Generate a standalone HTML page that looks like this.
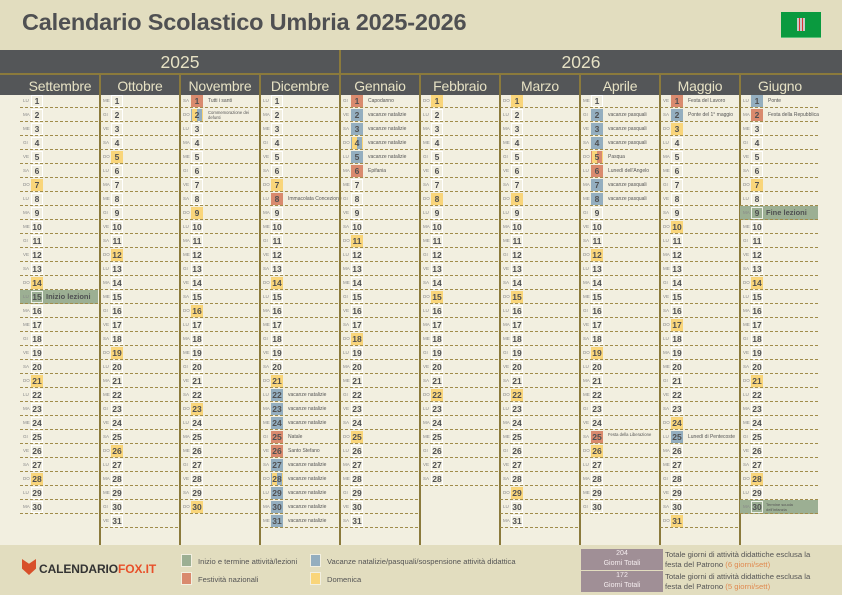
<!DOCTYPE html>
<html><head><meta charset="utf-8">
<style>
*{margin:0;padding:0;box-sizing:border-box}
body{width:842px;height:595px;overflow:hidden;background:#f2efe0;font-family:"Liberation Sans",sans-serif;position:relative}
.top{position:absolute;left:0;top:0;width:842px;height:50px;background:#e2ddbf}
.title{position:absolute;left:22px;top:9px;font-size:23.5px;font-weight:bold;color:#4f5052;letter-spacing:-0.2px}
.flag{position:absolute;left:781px;top:12px;width:40px;height:26px;background:#0a9a3f;border-bottom:1px solid #5cc07a}
.flag i{position:absolute;left:16px;top:6px;width:8px;height:13px;background:repeating-linear-gradient(90deg,#c9c9c9 0 2px,#d33 2px 3px,#c9c9c9 3px 5px,#d33 5px 6px,#c9c9c9 6px 8px)}
.band{position:absolute;left:0;top:50px;width:842px;height:45px;background:#545658}
.gl{position:absolute;left:0;top:73px;width:842px;height:2px;background:#8b7a3c}
.yr{position:absolute;top:52px;font-size:17.5px;color:#e6e1c4;text-align:center}
.mh{position:absolute;top:78px;width:80px;text-align:center;font-size:14px;color:#e6e1c4;letter-spacing:-0.2px}
.vl{position:absolute;width:1.5px;background:#8b7a3c}
.row{position:absolute;height:14px;border-bottom:1px dashed #a08c4a}
.wd{position:absolute;left:3px;top:4px;font-size:4.5px;color:#888}
.bx{position:absolute;left:11px;top:1px;width:12px;height:12px;border:1px solid #fff;font-size:8.5px;font-weight:bold;color:#4f5052;text-align:center;line-height:10px}
.ev{position:absolute;left:28px;top:4px;font-size:5px;color:#555;white-space:nowrap}
.foot{position:absolute;left:0;top:545px;width:842px;height:50px;background:#e2ddbf}
.lg{position:absolute;width:11px;height:13px;border:1px solid #f2efe0}
.lt{position:absolute;font-size:7.6px;color:#555}
.st{position:absolute;left:581px;width:82px;height:21px;background:#a08f96;color:#f4ecee;font-size:7px;text-align:center;line-height:9.5px;padding-top:0}
.stt{position:absolute;left:665px;font-size:7.7px;color:#555;line-height:10px}
.stt span{color:#e08a50}
</style></head><body>
<div class="top"></div>
<div class="title">Calendario Scolastico Umbria 2025-2026</div>
<div class="flag"><i></i></div>
<div class="band"></div>
<div class="gl"></div>
<div class="yr" style="left:20px;width:320px">2025</div>
<div class="yr" style="left:341px;width:480px">2026</div>
<div id="cal"></div>
<div class="foot">
<div style="position:absolute;left:22px;top:14px;width:14px;height:16px;background:#d8502a;clip-path:polygon(0 0,50% 30%,100% 0,100% 60%,50% 100%,0 60%)"></div>
<div style="position:absolute;left:39px;top:17px;font-size:12px;font-weight:bold;color:#333;letter-spacing:-0.1px">CALENDARIO<span style="color:#e8502a">FOX.IT</span></div>
<div class="lg" style="left:181px;top:9px;background:#9caf93"></div><div class="lt" style="left:198px;top:12px">Inizio e termine attività/lezioni</div>
<div class="lg" style="left:181px;top:27px;background:#d98a6e"></div><div class="lt" style="left:198px;top:30px">Festività nazionali</div>
<div class="lg" style="left:310px;top:9px;background:#94aebf"></div><div class="lt" style="left:327px;top:12px">Vacanze natalizie/pasquali/sospensione attività didattica</div>
<div class="lg" style="left:310px;top:27px;background:#f9d57a"></div><div class="lt" style="left:327px;top:30px">Domenica</div>
<div class="st" style="top:4px">204<br>Giorni Totali</div>
<div class="st" style="top:26px">172<br>Giorni Totali</div>
<div class="stt" style="top:5px">Totale giorni di attività didattiche esclusa la<br>festa del Patrono <span>(6 giorni/sett)</span></div>
<div class="stt" style="top:27px">Totale giorni di attività didattiche esclusa la<br>festa del Patrono <span>(5 giorni/sett)</span></div>
</div>
<script>
var months=[["Settembre",30,0],["Ottobre",31,2],["Novembre",30,5],["Dicembre",31,0],["Gennaio",31,3],["Febbraio",28,6],["Marzo",31,6],["Aprile",30,2],["Maggio",31,4],["Giugno",30,0]];
var wds=["LU","MA","ME","GI","VE","SA","DO"];
var R="#d98a6e",B="#94aebf",Y="#f9d57a",G="g";
var vn="vacanze natalizie",vp="vacanze pasquali";
var ev={
"0-15":[G,"Inizio lezioni"],
"2-1":[R,"Tutti i santi"],"2-2":["YB","Commemorazione dei defunti"],
"3-8":[R,"Immacolata Concezione"],"3-22":[B,vn],"3-23":[B,vn],"3-24":[B,vn],"3-25":[R,"Natale"],"3-26":[R,"Santo Stefano"],"3-27":[B,vn],"3-28":["YB",vn],"3-29":[B,vn],"3-30":[B,vn],"3-31":[B,vn],
"4-1":[R,"Capodanno"],"4-2":[B,vn],"4-3":[B,vn],"4-4":["YB",vn],"4-5":[B,vn],"4-6":[R,"Epifania"],
"7-2":[B,vp],"7-3":[B,vp],"7-4":[B,vp],"7-5":["YR","Pasqua"],"7-6":[R,"Lunedì dell'Angelo"],"7-7":[B,vp],"7-8":[B,vp],"7-25":[R,"Festa della Liberazione"],
"8-1":[R,"Festa del Lavoro"],"8-2":[B,"Ponte del 1° maggio"],"8-25":[B,"Lunedì di Pentecoste"],
"9-1":[B,"Ponte"],"9-2":[R,"Festa della Repubblica"],"9-9":[G,"Fine lezioni"],"9-30":[G,"Termine scuola dell'infanzia"]
};
var h="";
for(var m=0;m<10;m++){
 var x=20+m*80;
 h+='<div class="mh" style="left:'+x+'px">'+months[m][0]+'</div>';
 if(m>0)h+='<div class="vl" style="left:'+(x-1)+'px;top:'+(m==4?50:75)+'px;height:'+(m==4?495:470)+'px"></div>';
 for(var d=1;d<=months[m][1];d++){
  var wd=(months[m][2]+d-1)%7,e=ev[m+"-"+d],y=94+(d-1)*14;
  var rs="",bs="",es="",txt="";
  if(wd==6)bs="background:"+Y+";border-color:"+Y+";";
  if(e){
   var c=e[0];txt=e[1];
   if(c==G){rs="background:#9caf93;";bs="border-color:#eef2ea;";es="font-size:7.5px;font-weight:bold;color:#4f5052;top:2px;left:26px;";}
   else if(c=="YB")bs="background:linear-gradient(90deg,"+Y+" 50%,"+B+" 50%);border-color:transparent;";
   else if(c=="YR")bs="background:linear-gradient(90deg,"+Y+" 50%,"+R+" 50%);border-color:transparent;";
   else bs="background:"+c+";border-color:"+c+";";
   if(txt.length>22&&c!=G)es+="white-space:normal;width:50px;font-size:4.2px;top:2px;line-height:5px;";
   if(m==9&&d==30)es="white-space:normal;width:40px;font-size:4px;top:2px;line-height:5px;left:26px;color:#555;font-weight:normal;";
  }
  h+='<div class="row" style="left:'+x+'px;top:'+y+'px;width:78px;'+rs+'"><span class="wd">'+wds[wd]+'</span><span class="bx" style="'+bs+'">'+d+'</span>'+(txt?'<span class="ev" style="'+es+'">'+txt+'</span>':'')+'</div>';
 }
}
document.getElementById("cal").innerHTML=h;
</script>
</body></html>
